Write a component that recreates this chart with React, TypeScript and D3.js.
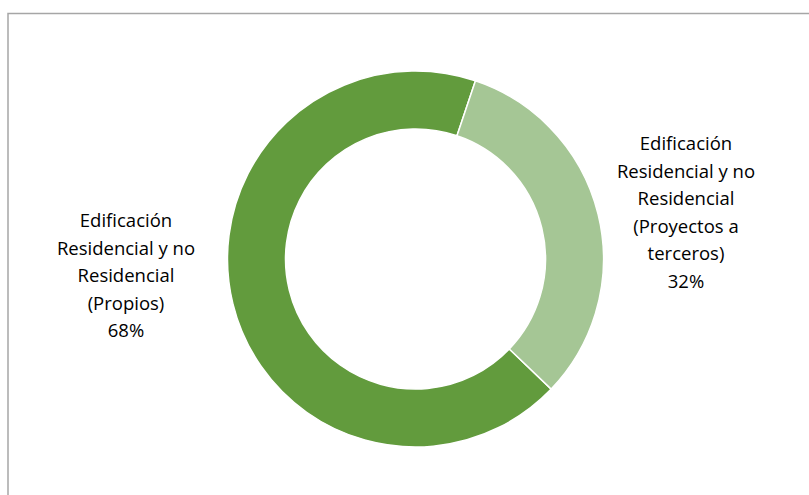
import React from "react";
import * as d3 from "d3";

const categories = [
  "Edificación Residencial y no Residencial (Propios)",
  "Edificación Residencial y no Residencial (Proyectos a terceros)",
];
const values = [68, 32];
const colors = ["#629B3D", "#A5C695"];
const leftLabelLines = ["Edificación", "Residencial y no", "Residencial", "(Propios)", "68%"];
const rightLabelLines = ["Edificación", "Residencial y no", "Residencial", "(Proyectos a", "terceros)", "32%"];

const W = 809;
const H = 495;

export default function App() {
  const cx = 415.5;
  const cy = 259;
  const outerR = 188;
  const innerR = 130;
  const start = (133.8 * Math.PI) / 180;
  const pie = d3
    .pie<number>()
    .sort(null)
    .value((d) => d)
    .startAngle(start)
    .endAngle(start + 2 * Math.PI);
  const arcs = pie(values);
  const arc = d3.arc<d3.PieArcDatum<number>>().innerRadius(innerR).outerRadius(outerR);
  const font = "'Open Sans', Calibri, sans-serif";
  const lh = 27.5;
  return (
    <svg
      width={W}
      height={H}
      style={{ position: "absolute", left: 0, top: 0, background: "#fff" }}
    >
      <rect x={8} y={13.5} width={W + 20} height={H + 20} fill="#fff" stroke="#A6A6A6" strokeWidth={1.5} />
      <g transform={`translate(${cx},${cy})`}>
        {arcs.map((a, i) => (
          <path key={categories[i]} d={arc(a) || ""} fill={colors[i]} stroke="#fff" strokeWidth={1.5} />
        ))}
      </g>
      <text fontFamily={font} fontSize={18.5} fill="#000" textAnchor="middle">
        {leftLabelLines.map((l, i) => (
          <tspan key={i} x={126} y={227 + i * lh}>
            {l}
          </tspan>
        ))}
      </text>
      <text fontFamily={font} fontSize={18.5} fill="#000" textAnchor="middle">
        {rightLabelLines.map((l, i) => (
          <tspan key={i} x={686} y={150 + i * lh}>
            {l}
          </tspan>
        ))}
      </text>
    </svg>
  );
}
